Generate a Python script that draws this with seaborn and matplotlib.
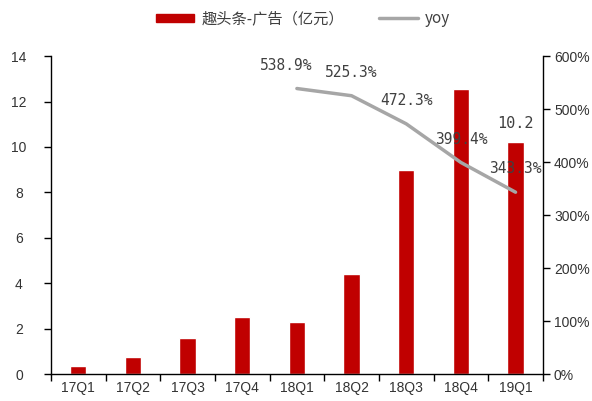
import matplotlib
matplotlib.use("Agg")
import matplotlib.pyplot as plt
import seaborn as sns
import pandas as pd
from matplotlib.ticker import FuncFormatter, FixedLocator
from matplotlib.patches import Patch
from matplotlib.lines import Line2D

# -----------------------------
# DATA
# -----------------------------
quarters = ["17Q1", "17Q2", "17Q3", "17Q4", "18Q1", "18Q2", "18Q3", "18Q4", "19Q1"]
ad_revenue = [0.35, 0.75, 1.58, 2.50, 2.28, 4.39, 9.00, 12.55, 10.20]
yoy_quarters = ["18Q1", "18Q2", "18Q3", "18Q4", "19Q1"]
yoy_pct = [538.9, 525.3, 472.3, 399.4, 343.3]

bar_label = "趣头条-广告（亿元）"
line_label = "yoy"

BAR_COLOR = "#C00000"
LINE_COLOR = "#A6A6A6"
TICK_COLOR = "#333333"

sns.set_style("white")
plt.rcParams["font.family"] = ["Liberation Sans Narrow", "Liberation Sans", "DejaVu Sans"]

df_bar = pd.DataFrame({"quarter": quarters, "value": ad_revenue})
df_line = pd.DataFrame({
    "pos": [quarters.index(q) for q in yoy_quarters],
    "yoy": yoy_pct,
})

fig = plt.figure(figsize=(5.92, 4.01), dpi=100)
ax = fig.add_axes([0.086, 0.067, 0.831, 0.793])

sns.barplot(data=df_bar, x="quarter", y="value", color=BAR_COLOR,
            saturation=1, width=0.3, ax=ax)
ax.set_xlim(-0.5, len(quarters) - 0.5)
ax.set_ylim(0, 14)
ax.set_yticks(range(0, 15, 2))
ax.set_xlabel("")
ax.set_ylabel("")

# ticks between categories on the x axis
ax.xaxis.set_major_locator(FixedLocator(range(len(quarters))))
ax.set_xticklabels(quarters)
ax.xaxis.set_minor_locator(FixedLocator([i - 0.5 for i in range(len(quarters) + 1)]))
ax.tick_params(axis="x", which="major", length=0, pad=5, labelsize=10, labelcolor=TICK_COLOR)
ax.tick_params(axis="x", which="minor", length=5, width=1, color="black", direction="out", bottom=True)
ax.tick_params(axis="y", length=5, width=1, color="black", direction="out", left=True,
               labelsize=10, labelcolor=TICK_COLOR, pad=18)
for lbl in ax.get_yticklabels():
    lbl.set_horizontalalignment("center")

for side in ["top", "right"]:
    ax.spines[side].set_visible(False)
for side in ["left", "bottom"]:
    ax.spines[side].set_color("black")
    ax.spines[side].set_linewidth(1)

# value label on the last bar
ax.text(len(quarters) - 1, ad_revenue[-1] + 0.5, f"{ad_revenue[-1]:.1f}",
        ha="center", va="bottom", fontsize=11, color="#404040",
        family=["DejaVu Sans Mono"])

# -----------------------------
# YOY LINE
# -----------------------------
ax2 = ax.twinx()
sns.lineplot(data=df_line, x="pos", y="yoy", color=LINE_COLOR, linewidth=2.5, ax=ax2)
ax2.set_xlim(-0.5, len(quarters) - 0.5)
ax2.set_ylim(0, 600)
ax2.set_yticks(range(0, 601, 100))
ax2.yaxis.set_major_formatter(FuncFormatter(lambda v, p: f"{v:.0f}%"))
ax2.set_xlabel("")
ax2.set_ylabel("")
ax2.tick_params(axis="y", length=5, width=1, color="black", direction="out", right=True,
                labelsize=10, labelcolor=TICK_COLOR, pad=3)
for side in ["top", "left", "bottom"]:
    ax2.spines[side].set_visible(False)
ax2.spines["right"].set_color("black")
ax2.spines["right"].set_linewidth(1)

offsets = [-0.2, 0, 0, 0, 0]
for (pos, val), dx in zip(zip(df_line["pos"], df_line["yoy"]), offsets):
    ax2.text(pos + dx, val + 30, f"{val:.1f}%", ha="center", va="bottom",
             fontsize=10.5, color="#404040", family=["DejaVu Sans Mono"])

# -----------------------------
# LEGEND
# -----------------------------
handles = [Patch(facecolor=BAR_COLOR, edgecolor=BAR_COLOR),
           Line2D([0], [0], color=LINE_COLOR, linewidth=2.5)]
leg = fig.legend(handles, [bar_label, line_label], loc="center", ncol=2,
                 bbox_to_anchor=(0.512, 0.953), frameon=False,
                 handlelength=2.5, handleheight=0.5, columnspacing=2.3, handletextpad=0.5,
                 prop={"family": ["Noto Sans CJK SC", "DejaVu Sans"], "size": 11})
for t in leg.get_texts():
    t.set_color("#404040")

fig.savefig("out.png", dpi=100)
